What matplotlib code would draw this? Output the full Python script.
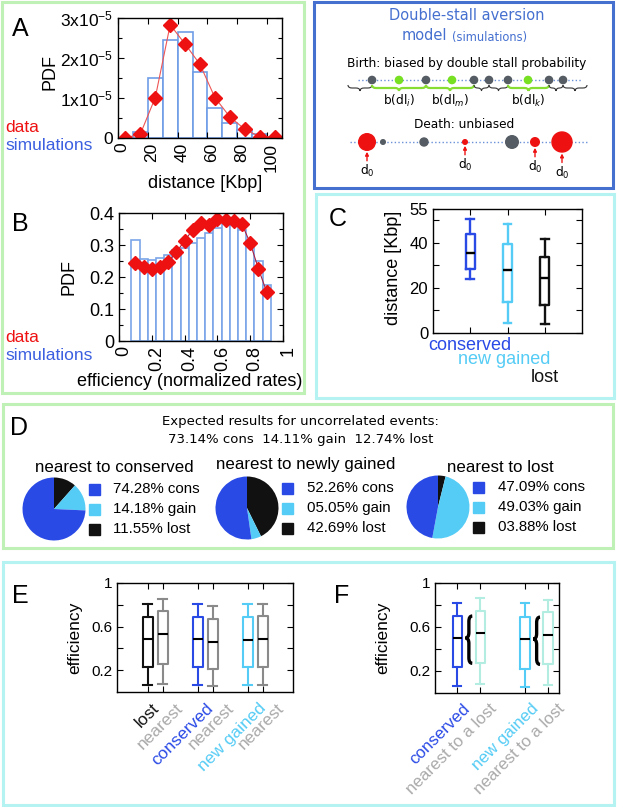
import numpy as np
import matplotlib
matplotlib.use("Agg")
import matplotlib.pyplot as plt
from matplotlib.patches import Rectangle, Circle, PathPatch
from matplotlib.path import Path
from matplotlib.transforms import ScaledTranslation

plt.rcParams['font.family'] = ['Liberation Sans', 'DejaVu Sans']
plt.rcParams['mathtext.fontset'] = 'custom'
plt.rcParams['mathtext.rm'] = 'Liberation Sans'
plt.rcParams['mathtext.it'] = 'Liberation Sans:italic'
plt.rcParams['mathtext.bf'] = 'Liberation Sans:bold'
plt.rcParams['xtick.direction'] = 'in'
plt.rcParams['ytick.direction'] = 'in'

# ---------------- data ----------------
# A: inter-origin distance PDF
dist_edges = [10, 20, 30, 40, 50, 60, 70, 80, 90, 100, 110]
dist_sim = [0.15e-5, 1.51e-5, 2.46e-5, 2.66e-5, 1.66e-5, 0.74e-5, 0.38e-5, 0.21e-5, 0.11e-5, 0.03e-5]
dist_x = [5, 15, 25, 35, 45, 55, 65, 75, 85, 95, 105]
dist_data = [0.0, 0.1e-5, 1.01e-5, 2.83e-5, 2.35e-5, 1.84e-5, 1.01e-5, 0.53e-5, 0.22e-5, 0.03e-5, 0.03e-5]

# B: efficiency PDF
eff_x = [0.10, 0.15, 0.20, 0.25, 0.30, 0.35, 0.40, 0.45, 0.50, 0.55, 0.60, 0.65, 0.70, 0.75, 0.80, 0.85, 0.90]
eff_sim = [0.317, 0.256, 0.252, 0.258, 0.268, 0.284, 0.291, 0.306, 0.322, 0.339, 0.354, 0.365, 0.362, 0.346, 0.304, 0.250, 0.174]
eff_data = [0.244, 0.232, 0.224, 0.232, 0.247, 0.278, 0.313, 0.348, 0.369, 0.362, 0.380, 0.377, 0.375, 0.365, 0.306, 0.226, 0.154]

# C: distance boxplots
c_names = ['conserved', 'new gained', 'lost']
c_lo = [24.0, 4.6, 4.0]
c_q1 = [28.6, 13.9, 12.5]
c_med = [35.7, 28.0, 24.6]
c_q3 = [43.7, 39.6, 33.5]
c_hi = [50.6, 48.3, 41.7]

# D: pies
expected = [73.14, 14.11, 12.74]
pie_titles = ['nearest to conserved', 'nearest to newly gained', 'nearest to lost']
pie_cons = [74.28, 52.26, 47.09]
pie_gain = [14.18, 5.05, 49.03]
pie_lost = [11.55, 42.69, 3.88]

# E: efficiency boxplots
e_names = ['lost', 'nearest', 'conserved', 'nearest', 'new gained', 'nearest']
e_lo = [0.06, 0.07, 0.06, 0.055, 0.06, 0.06]
e_q1 = [0.23, 0.26, 0.23, 0.21, 0.23, 0.23]
e_med = [0.49, 0.53, 0.49, 0.46, 0.48, 0.49]
e_q3 = [0.69, 0.74, 0.69, 0.67, 0.69, 0.70]
e_hi = [0.81, 0.85, 0.81, 0.79, 0.81, 0.81]

# F
f_names = ['conserved', 'nearest to a lost', 'new gained', 'nearest to a lost']
f_lo = [0.06, 0.08, 0.055, 0.07]
f_q1 = [0.24, 0.27, 0.22, 0.26]
f_med = [0.50, 0.55, 0.49, 0.53]
f_q3 = [0.70, 0.745, 0.69, 0.735]
f_hi = [0.82, 0.86, 0.82, 0.85]

# schematic
birth_grey = [372, 426, 474, 489, 508, 549, 563]
birth_green = [399, 452, 528]
birth_labels = {399: r'b(dl$_i$)', 450: r'b(dl$_m$)', 528.5: r'b(dl$_k$)'}
death_x = [367, 383, 424, 465, 512, 535, 562]
death_r = [8.3, 2.3, 4.0, 2.3, 6.3, 4.3, 10.0]
death_red = [True, False, False, True, False, True, True]

# ---------------- styles ----------------
RED = '#ee1111'
SIMBLUE = '#3b5fe0'
CONS = '#2a4ae6'
GAIN = '#55ccf5'
LOST = '#111111'
NEAR = '#8a8a8a'
NEARF = '#b3ece0'
GREY_TXT = '#aaaaaa'
GREEN_BOX = '#bff0b5'
CYAN_BOX = '#b5f3f3'
SCHEM = '#4570d0'

W, H = 617, 807
fig = plt.figure(figsize=(W / 100, H / 100), dpi=100)

ov = fig.add_axes([0, 0, 1, 1])
ov.set_xlim(0, W)
ov.set_ylim(H, 0)
ov.axis('off')


def px_ax(l, t, r, b):
    return fig.add_axes([l / W, 1 - b / H, (r - l) / W, (b - t) / H])


def shift_labels(labels, dx):
    if np.isscalar(dx):
        dx = [dx] * len(labels)
    for lb, d in zip(labels, dx):
        lb.set_transform(lb.get_transform() + ScaledTranslation(d / 100, 0, fig.dpi_scale_trans))


def brace(ax, pts, **kw):
    # pts: list of (x, y) for a quadratic-curve brace
    codes = [Path.MOVETO, Path.CURVE3, Path.CURVE3, Path.LINETO,
             Path.CURVE3, Path.CURVE3, Path.CURVE3, Path.CURVE3,
             Path.LINETO, Path.CURVE3, Path.CURVE3]
    ax.add_patch(PathPatch(Path(pts, codes), fill=False, **kw))


def hbrace(ax, x0, x1, y, h, **kw):
    xm = (x0 + x1) / 2
    r = min(4, (x1 - x0) / 4)
    pts = [(x0, y - h / 2), (x0, y), (x0 + r, y), (xm - r, y),
           (xm, y), (xm, y + h / 2), (xm, y), (xm + r, y),
           (x1 - r, y), (x1, y), (x1, y - h / 2)]
    brace(ax, pts, **kw)


def vbrace(ax, x, y0, y1, ym, w, c, **kw):
    pts = [(x + w / 2, y1), (x, y1), (x, y1 - c), (x, ym + c),
           (x, ym), (x - w / 2, ym), (x, ym), (x, ym - c),
           (x, y0 + c), (x, y0), (x + w / 2, y0)]
    brace(ax, pts, **kw)


def boxes(ax, lo, q1, med, q3, hi, positions, colors, width, lw=1.6):
    stats = [dict(whislo=a, q1=b, med=m, q3=d, whishi=e, fliers=[])
             for a, b, m, d, e in zip(lo, q1, med, q3, hi)]
    art = ax.bxp(stats, positions=positions, widths=width, capwidths=width * 0.85,
                 showfliers=False, manage_ticks=False,
                 boxprops=dict(linewidth=lw), whiskerprops=dict(linewidth=lw),
                 capprops=dict(linewidth=lw), medianprops=dict(color='black', linewidth=lw))
    for i, c in enumerate(colors):
        art['boxes'][i].set_color(c)
        for k in (2 * i, 2 * i + 1):
            art['whiskers'][k].set_color(c)
            art['caps'][k].set_color(c)


def style_ax(ax, size):
    ax.tick_params(which='both', top=True, right=True, labelsize=size, length=4, width=0.8)
    ax.tick_params(which='minor', length=3)
    for s in ax.spines.values():
        s.set_linewidth(1.0)


# ---------------- panel borders ----------------
for (x0, y0, x1, y1, col) in [(2, 2, 304, 393, GREEN_BOX), (314, 2, 613, 188, SCHEM),
                              (316, 194, 614, 398, CYAN_BOX), (3, 404, 613, 548, GREEN_BOX),
                              (3, 562, 614, 805, CYAN_BOX)]:
    ov.add_patch(Rectangle((x0, y0), x1 - x0, y1 - y0, fill=False, edgecolor=col, lw=2.2))

for lt, x, y in [('A', 20, 29), ('B', 20, 224), ('C', 338, 219), ('D', 19, 428), ('E', 20, 596), ('F', 342, 596)]:
    ov.text(x, y, lt, fontsize=18, ha='center', va='center')

# ---------------- A ----------------
axA = px_ax(118, 18, 282, 138)
axA.bar(dist_edges[:-1], dist_sim, width=np.diff(dist_edges), align='edge',
        facecolor='white', edgecolor='#6f9de6', linewidth=1.2)
axA.plot(dist_x, dist_data, color='#ee5555', lw=0.8, marker='D', ms=7.5, mfc=RED, mec=RED)
axA.set_xlim(0, 110)
axA.set_ylim(0, 3e-5)
axA.set_xticks([0, 20, 40, 60, 80, 100])
axA.set_yticks([0, 1e-5, 2e-5, 3e-5])
axA.set_yticklabels(['0', r'1x10$^{-5}$', r'2x10$^{-5}$', r'3x10$^{-5}$'])
axA.set_yticks([0.5e-5, 1.5e-5, 2.5e-5], minor=True)
style_ax(axA, 12.5)
axA.tick_params(axis='x', labelrotation=90)
shift_labels(axA.get_xticklabels(), 4)
ov.text(50, 72, 'PDF', rotation=90, fontsize=13, ha='center', va='center')
ov.text(205, 183, 'distance [Kbp]', fontsize=13, ha='center', va='center')
ov.text(5, 128, 'data', color=RED, fontsize=12.5, ha='left', va='center')
ov.text(5, 146, 'simulations', color=SIMBLUE, fontsize=12.5, ha='left', va='center')

# ---------------- B ----------------
axB = px_ax(119, 213, 283, 341)
axB.bar(eff_x, eff_sim, width=0.05, facecolor='white', edgecolor='#7aa5e8', linewidth=1.2)
axB.plot(eff_x, eff_data, color='#aa2244', lw=0.8, marker='D', ms=7.5, mfc=RED, mec=RED)
axB.set_xlim(0, 1)
axB.set_ylim(0, 0.4)
axB.set_xticks([0, 0.2, 0.4, 0.6, 0.8, 1])
axB.set_xticklabels(['0', '0.2', '0.4', '0.6', '0.8', '1'])
axB.set_yticks([0, 0.1, 0.2, 0.3, 0.4])
axB.set_yticklabels(['0', '0.1', '0.2', '0.3', '0.4'])
axB.set_yticks([0.05, 0.15, 0.25, 0.35], minor=True)
style_ax(axB, 13)
axB.tick_params(axis='x', labelrotation=90)
shift_labels(axB.get_xticklabels(), 5)
ov.text(69, 277, 'PDF', rotation=90, fontsize=13, ha='center', va='center')
ov.text(190, 382, 'efficiency (normalized rates)', fontsize=13, ha='center', va='center')
ov.text(5, 337, 'data', color=RED, fontsize=12.5, ha='left', va='center')
ov.text(5, 355, 'simulations', color=SIMBLUE, fontsize=12.5, ha='left', va='center')

# ---------------- schematic ----------------
dv = dict(family='DejaVu Sans', math_fontfamily='dejavusans')
ov.text(467, 15, 'Double-stall aversion', color=SCHEM, fontsize=10.5, ha='center', va='center', **dv)
ov.text(447, 36, 'model', color=SCHEM, fontsize=10.5, ha='right', va='center', **dv)
ov.text(452, 37, '(simulations)', color=SCHEM, fontsize=8.3, ha='left', va='center', **dv)
ov.text(467, 63, 'Birth: biased by double stall probability', fontsize=8.7, ha='center', va='center', **dv)
ov.plot([358, 582], [80, 80], ls=':', color='#6a90d8', lw=1.0)
for x in birth_grey:
    ov.add_patch(Circle((x, 80), 3.6, color='#555c63', zorder=3))
for x in birth_green:
    ov.add_patch(Circle((x, 80), 3.6, color='#77e022', zorder=3))
bounds = [348] + birth_grey + [587]
for a, b in zip(bounds[:-1], bounds[1:]):
    green = any(a < g < b for g in birth_green)
    if green:
        hbrace(ov, a, b, 88, 6, edgecolor='#88dd33', lw=1.6)
    else:
        hbrace(ov, a, b, 88, 6, edgecolor='#333333', lw=0.8)
for x, s in birth_labels.items():
    ov.text(x, 101, s, fontsize=8.7, ha='center', va='center', **dv)
ov.text(464, 125, 'Death: unbiased', fontsize=8.7, ha='center', va='center', **dv)
ov.plot([350, 588], [142, 142], ls=':', color='#6a90d8', lw=1.0)
for x, r, red in zip(death_x, death_r, death_red):
    ov.add_patch(Circle((x, 142), r, color=RED if red else '#555c63', zorder=3))
    if red:
        tip = 142 + r + 1.5
        ov.annotate('', xy=(x, tip), xytext=(x, tip + 9),
                    arrowprops=dict(arrowstyle='-|>', color=RED, lw=1.0, mutation_scale=5,
                                    shrinkA=0, shrinkB=0))
        ov.text(x, tip + 19, r'd$_0$', fontsize=8.7, ha='center', va='center', **dv)

# ---------------- C ----------------
axC = px_ax(433, 209, 582, 333)
boxes(axC, c_lo, c_q1, c_med, c_q3, c_hi, [1, 2, 3], [CONS, GAIN, LOST], 0.25, lw=1.7)
axC.set_xlim(0, 4)
axC.set_ylim(0, 55)
axC.set_xticks([1, 2, 3])
axC.set_xticklabels([])
axC.set_yticks([0, 10, 20, 30, 40, 50, 55])
axC.set_yticklabels(['0', '', '20', '', '40', '', '55'])
style_ax(axC, 12)
ov.text(393, 268, 'distance [Kbp]', rotation=90, fontsize=13, ha='center', va='center')
for name, col, x, y in zip(c_names, [CONS, GAIN, LOST], [470, 504, 545], [345, 360, 377]):
    ov.text(x, y, name, color=col, fontsize=13, ha='center', va='center')

# ---------------- D ----------------
dvD = dict(family='DejaVu Sans')
ov.text(300, 421, 'Expected results for uncorrelated events:', fontsize=9.5, ha='center', va='center', **dvD)
ov.text(301, 439, f'{expected[0]:.2f}% cons  {expected[1]:.2f}% gain  {expected[2]:.2f}% lost',
        fontsize=9.5, ha='center', va='center', **dvD)
pie_cx = [54, 247, 438]
pie_cy = [509, 508, 507]
title_x = [114, 306, 500]
title_y = [467, 465, 467]
sq_x = [89, 282, 473]
txt_x = [113, 307, 498]
row_y0 = [489, 488, 487]
for i in range(3):
    cx, cy, r = pie_cx[i], pie_cy[i], 31.5
    axp = px_ax(cx - r, cy - r, cx + r, cy + r)
    axp.pie([pie_lost[i], pie_gain[i], pie_cons[i]], colors=[LOST, GAIN, CONS],
            startangle=90, counterclock=False, radius=1, wedgeprops=dict(linewidth=0))
    axp.set_xlim(-1, 1)
    axp.set_ylim(-1, 1)
    ov.text(title_x[i], title_y[i], pie_titles[i], fontsize=12.2, ha='center', va='center')
    vals = [(pie_cons[i], 'cons', CONS), (pie_gain[i], 'gain', GAIN), (pie_lost[i], 'lost', LOST)]
    for j, (v, nm, col) in enumerate(vals):
        y = row_y0[i] + 20 * j
        ov.add_patch(Rectangle((sq_x[i], y - 5.5), 11, 11, color=col))
        ov.text(txt_x[i], y, f'{v:05.2f}% {nm}', fontsize=10.8, ha='left', va='center')

# ---------------- E ----------------
axE = px_ax(117, 583, 293, 692)
e_pos = [0.85, 1.15, 1.85, 2.15, 2.85, 3.15]
boxes(axE, e_lo, e_q1, e_med, e_q3, e_hi, e_pos,
      [LOST, NEAR, CONS, NEAR, GAIN, NEAR], 0.2, lw=1.5)
axE.set_xlim(0.24, 3.76)
axE.set_ylim(0, 1)
axE.set_xticks(e_pos)
axE.set_xticklabels(e_names, rotation=45, ha='right', va='top', rotation_mode='anchor')
axE.set_yticks([0.2, 0.4, 0.6, 0.8, 1.0])
axE.set_yticklabels(['0.2', '', '0.6', '', '1'])
style_ax(axE, 11)
axE.tick_params(axis='x', labelsize=12.5, pad=6)
for lb, col in zip(axE.get_xticklabels(), [LOST, GREY_TXT, CONS, GREY_TXT, GAIN, GREY_TXT]):
    lb.set_color(col)
shift_labels(axE.get_xticklabels(), [4, 13, 8, 14, 11, 14])
ov.text(75, 638, 'efficiency', rotation=90, fontsize=12.5, ha='center', va='center')

# ---------------- F ----------------
axF = px_ax(435, 583, 559, 693)
f_pos = [0.83, 1.17, 1.83, 2.17]
boxes(axF, f_lo, f_q1, f_med, f_q3, f_hi, f_pos, [CONS, NEARF, GAIN, NEARF], 0.14, lw=1.5)
axF.set_xlim(0.5, 2.33)
axF.set_ylim(0, 1)
axF.set_xticks(f_pos)
axF.set_xticklabels(f_names, rotation=45, ha='right', va='top', rotation_mode='anchor')
axF.set_yticks([0.2, 0.4, 0.6, 0.8, 1.0])
axF.set_yticklabels(['0.2', '', '0.6', '', '1'])
style_ax(axF, 11)
axF.tick_params(axis='x', labelsize=12.2, pad=6)
for lb, col in zip(axF.get_xticklabels(), [CONS, GREY_TXT, GAIN, GREY_TXT]):
    lb.set_color(col)
shift_labels(axF.get_xticklabels(), [5, 9, 6, 9])
for g, i in [(1.0, 0), (2.0, 2)]:
    vbrace(axF, g, f_q1[i + 1], f_q3[i], f_med[i], 0.1, 0.05, edgecolor='black', lw=2.4)
ov.text(383, 638, 'efficiency', rotation=90, fontsize=12.5, ha='center', va='center')

fig.savefig('out.png', dpi=100)
